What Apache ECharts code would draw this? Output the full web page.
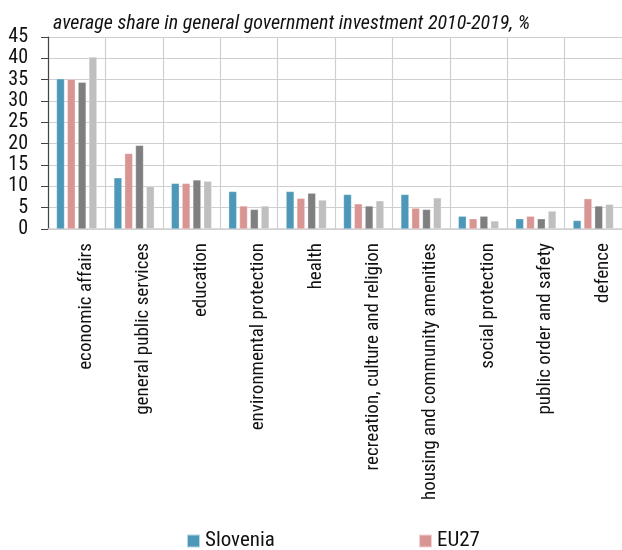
<!DOCTYPE html>
<html>
<head>
<meta charset="utf-8">
<script src="https://cdn.jsdelivr.net/npm/echarts@6/dist/echarts.min.js"></script>
<style>
  html, body { margin: 0; padding: 0; background: #fff; }
  #chart { width: 622px; height: 550px; }
</style>
</head>
<body>
<div id="chart"></div>
<script>
// Government investment by function, average share 2010-2019
const categories = [
  'economic affairs', 'general public services', 'education',
  'environmental protection', 'health', 'recreation, culture and religion',
  'housing and community amenities', 'social protection',
  'public order and safety', 'defence'
];
const slovenia = [35.2, 12.0, 10.7, 8.8, 8.8, 8.1, 8.1, 3.0, 2.4, 2.0];
const eu27     = [35.1, 17.7, 10.7, 5.4, 7.2, 5.9, 4.9, 2.4, 3.0, 7.1];
const eu14     = [34.4, 19.6, 11.5, 4.6, 8.4, 5.4, 4.6, 3.0, 2.4, 5.4];
const eu13     = [40.3, 10.0, 11.2, 5.4, 6.8, 6.6, 7.3, 1.9, 4.2, 5.8];
const yTicks = [0, 5, 10, 15, 20, 25, 30, 35, 40, 45];

const FONT = "'Roboto Condensed', 'DejaVu Sans Condensed', sans-serif";
const colors = ['#4d97b8', '#d99594', '#7f7f7f', '#bfbfbf'];

function bar(name, data, color) {
  return {
    name, type: 'bar', data,
    barWidth: 8, barGap: '35%',
    itemStyle: { color, borderColor: 'rgba(255,255,255,0.6)', borderWidth: 0.5 }
  };
}

const legendText = { fontFamily: FONT, fontSize: 21, lineHeight: 22, fontWeight: 'normal', color: '#111' };
function legendAt(name, left, top) {
  return { data: [name], left, top, itemWidth: 13, itemHeight: 13, icon: 'rect', textStyle: legendText };
}

const chart = echarts.init(document.getElementById('chart'), null, { renderer: 'canvas' });
chart.setOption({
  animation: false,
  textStyle: { fontFamily: FONT },
  title: {
    text: 'average share in general government investment 2010-2019, %',
    left: 48, top: 9,
    textStyle: { fontFamily: FONT, fontStyle: 'italic', fontWeight: 'normal', fontSize: 20, color: '#111' }
  },
  grid: { left: 48, right: 0, top: 37, bottom: 321, containLabel: false },
  legend: [
    legendAt('Slovenia', 181, 525),
    legendAt('EU27', 413, 525),
    legendAt('EU14', 181, 560),
    legendAt('EU13', 413, 560)
  ],
  xAxis: {
    type: 'category', data: categories,
    axisLine: { lineStyle: { color: '#cfcfcf', width: 1.5 } },
    axisTick: { show: false },
    splitLine: { show: true, lineStyle: { color: '#cfcfcf', width: 1.2 } },
    axisLabel: {
      rotate: 90, interval: 0, margin: 14, verticalAlign: 'top',
      fontFamily: FONT, fontSize: 19, color: '#111'
    }
  },
  yAxis: {
    type: 'value', min: 0, max: 45, interval: 5,
    axisLine: { show: true, lineStyle: { color: '#444', width: 1.2 } },
    axisTick: { show: true, length: 7, lineStyle: { color: '#444' } },
    splitLine: { lineStyle: { color: '#cfcfcf', width: 1.2 } },
    axisLabel: {
      margin: 20, fontFamily: FONT, fontSize: 20, color: '#111',
      formatter: v => yTicks.includes(v) ? String(v) : ''
    }
  },
  series: [
    bar('Slovenia', slovenia, colors[0]),
    bar('EU27', eu27, colors[1]),
    bar('EU14', eu14, colors[2]),
    bar('EU13', eu13, colors[3])
  ]
});
</script>
</body>
</html>
